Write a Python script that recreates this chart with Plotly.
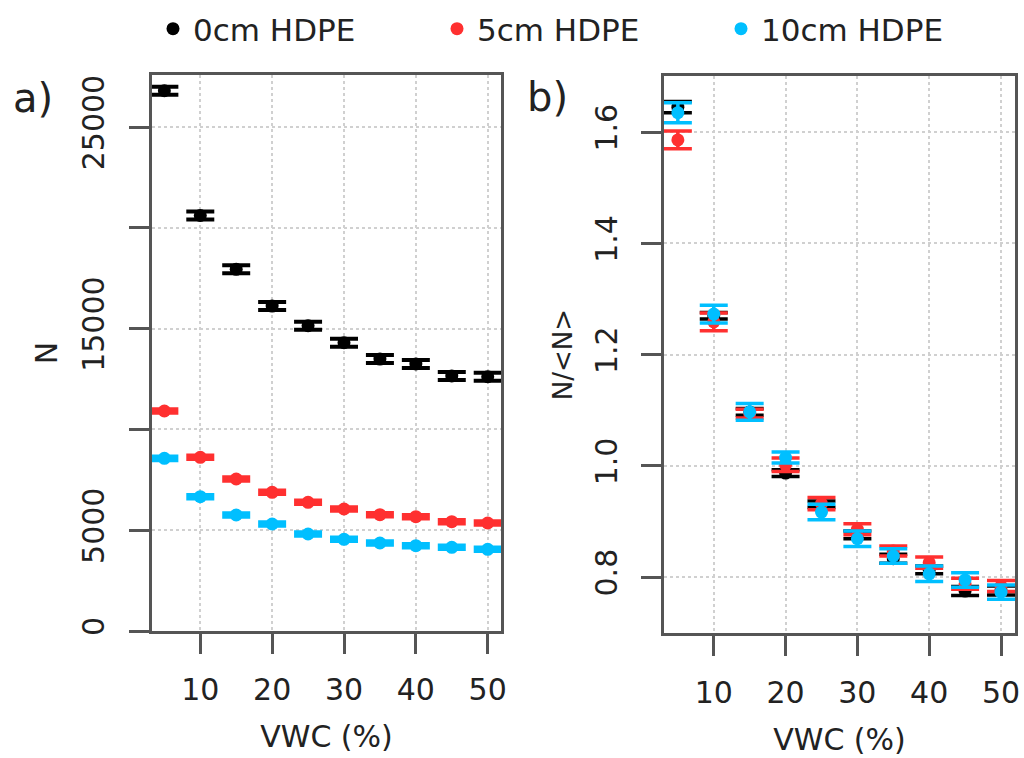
import plotly.graph_objects as go

# ---------------- data ----------------
VWC = [5, 10, 15, 20, 25, 30, 35, 40, 45, 50]

# panel a: raw counts N
N_0CM = [26800, 20610, 17940, 16120, 15145, 14300, 13490, 13245, 12650, 12615]
N_5CM = [10913, 8616, 7540, 6880, 6384, 6052, 5769, 5670, 5422, 5357]
N_10CM = [8566, 6662, 5754, 5308, 4812, 4549, 4365, 4231, 4152, 4053]
ERR_0CM = [200, 200, 200, 200, 200, 200, 200, 200, 200, 200]
ERR_5CM = [90, 90, 90, 90, 90, 90, 90, 90, 90, 90]
ERR_10CM = [90, 90, 90, 90, 90, 90, 90, 90, 90, 90]

# panel b: normalised counts N/<N>
R_0CM = [1.645, 1.270, 1.097, 0.987, 0.931, 0.876, 0.833, 0.813, 0.775, 0.776]
R_5CM = [1.586, 1.259, 1.094, 1.002, 0.932, 0.886, 0.847, 0.826, 0.788, 0.784]
R_10CM = [1.635, 1.273, 1.097, 1.015, 0.917, 0.869, 0.838, 0.806, 0.795, 0.773]
RERR_0CM = [0.010, 0.006, 0.006, 0.006, 0.006, 0.007, 0.008, 0.007, 0.008, 0.008]
RERR_5CM = [0.016, 0.016, 0.008, 0.012, 0.011, 0.010, 0.009, 0.010, 0.010, 0.010]
RERR_10CM = [0.018, 0.016, 0.015, 0.010, 0.014, 0.014, 0.013, 0.014, 0.013, 0.013]

SERIES = ["0cm HDPE", "5cm HDPE", "10cm HDPE"]
COLORS = ["#000000", "#FF3030", "#00BFFF"]

X_TICKS = [10, 20, 30, 40, 50]
X_TICK_LABELS = ["10", "20", "30", "40", "50"]
YA_TICKS = [0, 5000, 10000, 15000, 20000, 25000]
YA_TICK_LABELS = ["0", "5000", "", "15000", "", "25000"]
YB_TICKS = [0.8, 1.0, 1.2, 1.4, 1.6]
YB_TICK_LABELS = ["0.8", "1.0", "1.2", "1.4", "1.6"]

FONT = "DejaVu Sans"
W, H = 1024, 758

fig = go.Figure()

panel_a = [(N_0CM, ERR_0CM), (N_5CM, ERR_5CM), (N_10CM, ERR_10CM)]
panel_b = [(R_0CM, RERR_0CM), (R_5CM, RERR_5CM), (R_10CM, RERR_10CM)]

for name, col, (yv, ev) in zip(SERIES, COLORS, panel_a):
    fig.add_trace(go.Scatter(
        x=VWC, y=yv, mode="markers", name=name, legendgroup=name,
        marker=dict(color=col, size=13, line=dict(width=0)),
        error_y=dict(type="data", array=ev, color=col, thickness=4, width=14),
        xaxis="x", yaxis="y", showlegend=True,
    ))
for name, col, (yv, ev) in zip(SERIES, COLORS, panel_b):
    fig.add_trace(go.Scatter(
        x=VWC, y=yv, mode="markers", name=name, legendgroup=name,
        marker=dict(color=col, size=13, line=dict(width=0)),
        error_y=dict(type="data", array=ev, color=col, thickness=3.5, width=14),
        xaxis="x2", yaxis="y2", showlegend=False,
    ))

axis_common = dict(
    showline=True, mirror=True, linecolor="#555555", linewidth=2.5,
    ticks="outside", ticklen=20, tickwidth=2.5, tickcolor="#555555",
    showgrid=True, gridcolor="#d0d0d0", gridwidth=1.5, griddash="dot",
    zeroline=False, automargin=False,
    tickfont=dict(family=FONT, size=30, color="#222222"),
    title_font=dict(family=FONT, size=30, color="#222222"),
)

fig.update_layout(
    width=W, height=H,
    margin=dict(l=0, r=0, t=0, b=0),
    paper_bgcolor="white", plot_bgcolor="white",
    font=dict(family=FONT, size=30, color="#222222"),
    xaxis=dict(domain=[152 / W, 501 / W], range=[3.28, 51.85], anchor="y",
               tickvals=X_TICKS, ticktext=X_TICK_LABELS, ticklabelstandoff=10,
               title=dict(text="VWC (%)", standoff=21), **axis_common),
    yaxis=dict(domain=[(H - 631) / H, (H - 75) / H], range=[0, 27580], anchor="x",
               tickvals=YA_TICKS, ticktext=YA_TICK_LABELS, tickangle=-90,
               ticklabelstandoff=13,
               title=dict(text="N", standoff=10), **axis_common),
    xaxis2=dict(domain=[664 / W, 1015 / W], range=[3.07, 51.95], anchor="y2",
                tickvals=X_TICKS, ticktext=X_TICK_LABELS, ticklabelstandoff=11,
                title=dict(text="VWC (%)", standoff=20), **axis_common),
    yaxis2=dict(domain=[(H - 633.3) / H, (H - 76) / H], range=[0.699, 1.701], anchor="x2",
                tickvals=YB_TICKS, ticktext=YB_TICK_LABELS, tickangle=-90,
                ticklabelstandoff=12,
                title=dict(text="N/<N>", standoff=10), **axis_common),
    legend=dict(orientation="h", x=153 / W, y=1 - 2 / H, xanchor="left", yanchor="top",
                font=dict(family=FONT, size=31, color="#222222"),
                entrywidth=239, entrywidthmode="pixels",
                bgcolor="rgba(0,0,0,0)"),
    annotations=[
        dict(text="a)", x=33 / W, y=1 - 98 / H, xref="paper", yref="paper",
             xanchor="center", yanchor="middle",
             showarrow=False, font=dict(family=FONT, size=40, color="#222222")),
        dict(text="b)", x=547 / W, y=1 - 97 / H, xref="paper", yref="paper",
             xanchor="center", yanchor="middle",
             showarrow=False, font=dict(family=FONT, size=40, color="#222222")),
    ],
)
fig.layout.yaxis2.title.font.size = 26

fig.write_html("out.html", config={"displayModeBar": False},
               post_script="document.body.style.margin='0';")
